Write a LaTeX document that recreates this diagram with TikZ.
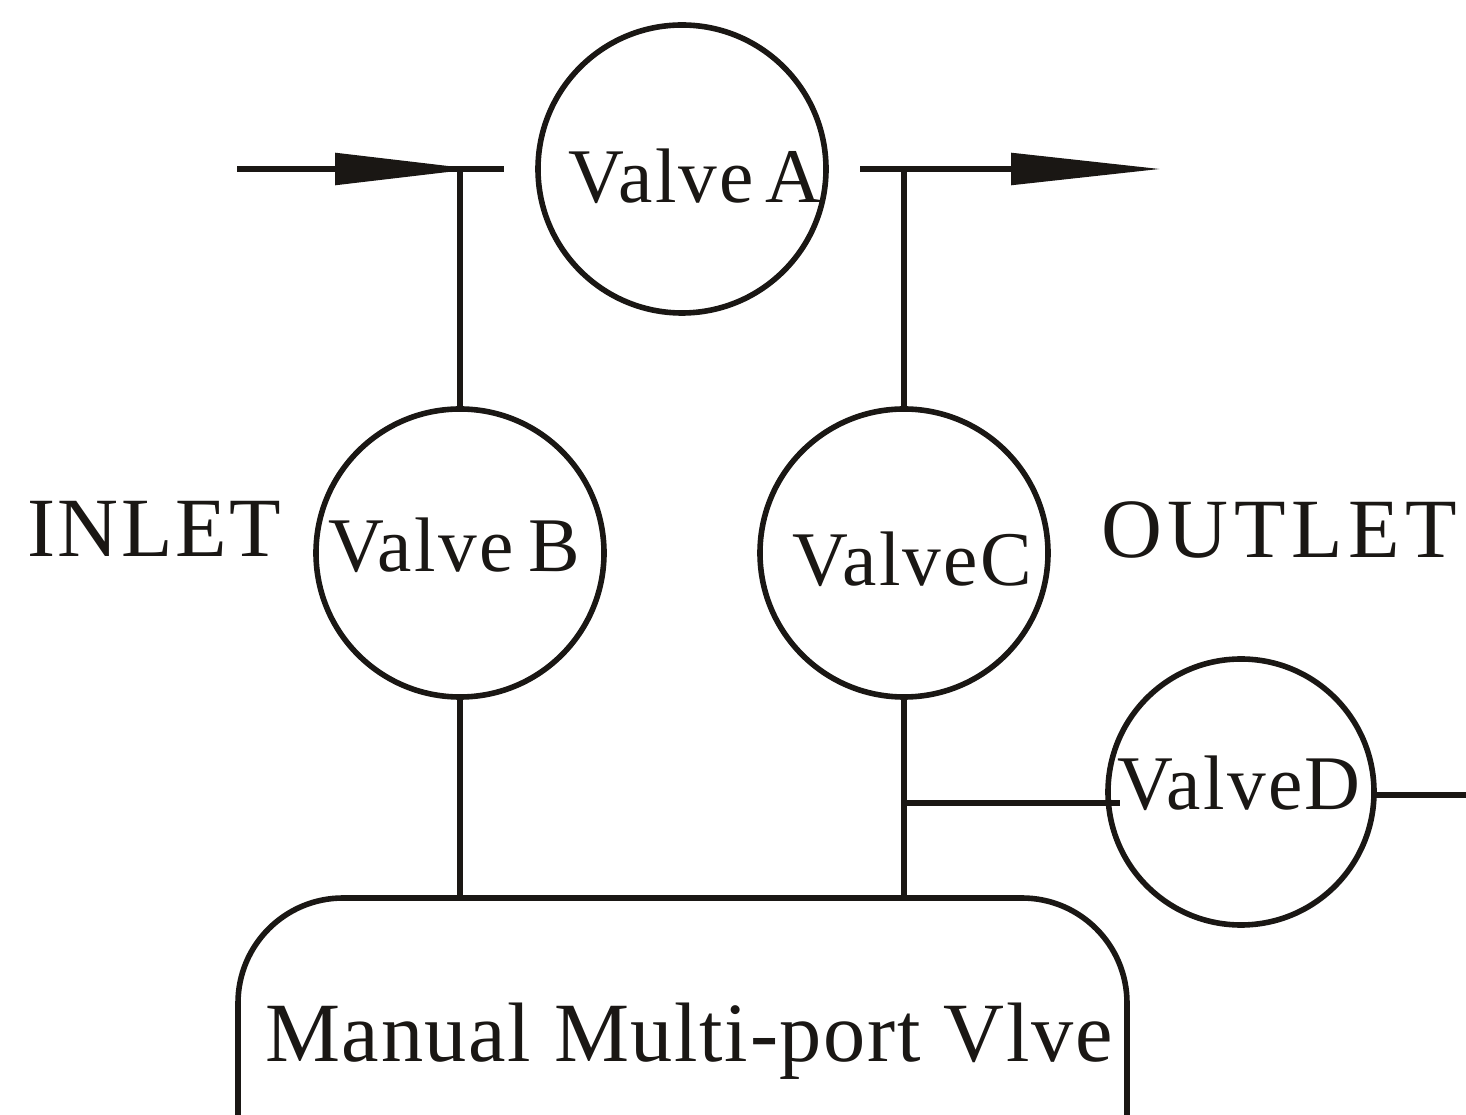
\documentclass[tikz,border=0pt]{standalone}
\usepackage{fontspec}
\setmainfont{Liberation Serif}
\usetikzlibrary{arrows.meta}
\definecolor{ink}{HTML}{1A1714}
\tikzset{every picture/.append style={line width=0.056cm, color=ink}}
\tikzset{
    valve/.style={circle, draw, inner sep=0pt, minimum size=2.88cm},
    tag/.style={inner sep=0pt, anchor=base, font=\fontsize{22}{22}\selectfont\addfontfeature{LetterSpace=3}},
    bigtag/.style={inner sep=0pt, anchor=base, font=\fontsize{24}{24}\selectfont\addfontfeature{LetterSpace=#1}},
    flowin/.style={-{Triangle[length=1.4cm,width=0.31cm]}},
    flowout/.style={-{Triangle[length=1.5cm,width=0.31cm]}}
}

\begin{document}
\begin{tikzpicture}
  \clip (0cm, 0cm) rectangle (14.66cm, -11.15cm);
  \node (A) [valve] at (6.82cm, -1.69cm) {};
  \node (B) [valve] at (4.6cm, -5.53cm) {};
  \node (C) [valve] at (9.04cm, -5.53cm) {};
  \node (D) [valve, minimum size=2.66cm] at (12.41cm, -7.92cm) {};
  \node (M) [draw, rectangle, rounded corners=1.05cm, minimum width=8.89cm, minimum height=6cm] at (6.825cm, -11.98cm) {};

  \node (tA) [tag] at (6.95cm, -2.03cm) {Valve\hspace{-3pt} A};
  \node (tB) [tag] at (4.54cm, -5.72cm) {Valve\hspace{-2pt} B};
  \node (tC) [tag] at (9.125cm, -5.86cm) {ValveC};
  \node (tD) [tag] at (12.39cm, -8.1cm) {ValveD};
  \node (tI) [bigtag=3] at (1.54cm, -5.57cm) {INLET};
  \node (tO) [bigtag=6.5] at (12.79cm, -5.58cm) {OUTLET};
  \node (tM) [bigtag=2] at (6.89cm, -10.61cm) {Manual Multi-port Vlve};

  \coordinate (in) at (2.37cm, -1.69cm);
  \coordinate (inE) at (5.04cm, -1.69cm);
  \coordinate (inJ) at (4.6cm, -1.69cm);
  \coordinate (inTip) at (4.75cm, -1.69cm);
  \coordinate (outW) at (8.6cm, -1.69cm);
  \coordinate (outJ) at (9.04cm, -1.69cm);
  \coordinate (out) at (11.61cm, -1.69cm);
  \coordinate (tee) at (9.04cm, -8.03cm);
  \coordinate (teeE) at (11.2cm, -8.03cm);
  \coordinate (exit) at (14.66cm, -7.95cm);
  \coordinate (Dout) at (13.76cm, -7.95cm);

  \draw (in) -- (inE);
  \draw [flowin] (in) -- (inTip);
  \draw [flowout] (outW) -- (out);
  \draw (inJ) -- (B);
  \draw (outJ) -- (C);
  \draw (B) -- (B |- M.north);
  \draw (C) -- (C |- M.north);
  \draw (tee) -- (teeE);
  \draw (Dout) -- (exit);
\end{tikzpicture}
\end{document}
